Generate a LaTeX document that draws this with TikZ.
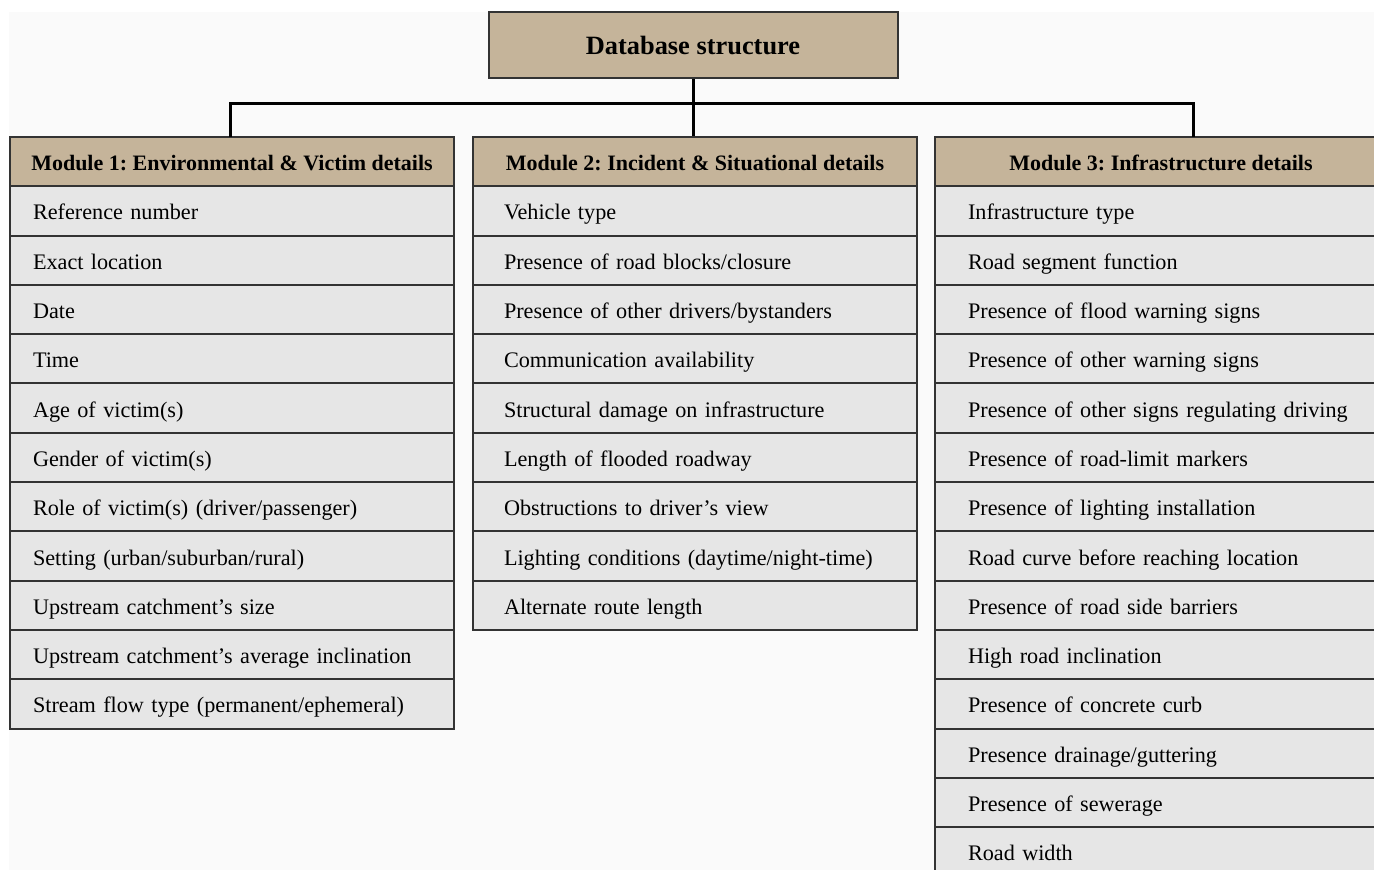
\documentclass[tikz,border=0pt]{standalone}
\usepackage{fontspec}
\setmainfont{Liberation Serif}
\usetikzlibrary{positioning}
\frenchspacing

\definecolor{tan}{HTML}{C5B49A}
\definecolor{cellgray}{HTML}{E6E6E6}
\definecolor{edge}{HTML}{333333}
\definecolor{paper}{HTML}{FAFAFA}

\begin{document}
\begin{tikzpicture}
[
    x=0.5pt, y=-0.5pt,
    title/.style={draw=edge, line width=1pt, fill=tan, minimum width=204.5pt, minimum height=33pt, font=\fontsize{13.2}{15}\selectfont\bfseries},
    head/.style={draw=edge, line width=1pt, fill=tan, minimum width=222pt, minimum height=24.65pt, inner sep=0pt, text height=9pt, text depth=0pt, font=\fontsize{11}{12}\selectfont\bfseries},
    cell/.style={draw=edge, line width=1pt, fill=cellgray, minimum width=222pt, minimum height=24.65pt, inner ysep=0pt, inner xsep=#1, text height=9pt, text depth=0pt, align=left, font=\fontsize{11.1}{12}\selectfont},
    bus/.style={line width=1.5pt, black},
]
\clip (0,0) rectangle (1374,870);
\fill[paper] (9,12) rectangle (1374,870);

% top box
\node [title] (top) at (693,45.5) {Database structure};

% module headers
\node [head] (m1h) at (232,161.6) {Module 1: Environmental \& Victim details};
\node [head] (m2h) at (695,161.6) {Module 2: Incident \& Situational details};
\node [head, minimum width=226pt] (m3h) at (1161,161.6) {Module 3: Infrastructure details};

% module 1
\foreach \t [count=\i] in {Reference number, Exact location, Date, Time,
    Age of victim(s), Gender of victim(s), Role of victim(s) (driver/passenger),
    Setting (urban/suburban/rural), Upstream catchment’s size,
    Upstream catchment’s average inclination,
    Stream flow type (permanent/ephemeral)}
    \node [cell=11.5pt, text width=199pt] (m1-\i) at (232,{186.3+49.3*(\i-0.5)}) {\t};

% module 2
\foreach \t [count=\i] in {Vehicle type, Presence of road blocks/closure,
    Presence of other drivers/bystanders, Communication availability,
    Structural damage on infrastructure, Length of flooded roadway,
    Obstructions to driver’s view, Lighting conditions (daytime/night-time),
    Alternate route length}
    \node [cell=15.5pt, text width=191pt] (m2-\i) at (695,{186.3+49.3*(\i-0.5)}) {\t};

% module 3
\foreach \t [count=\i] in {Infrastructure type, Road segment function,
    Presence of flood warning signs, Presence of other warning signs,
    Presence of other signs regulating driving, Presence of road-limit markers,
    Presence of lighting installation, Road curve before reaching location,
    Presence of road side barriers, High road inclination,
    Presence of concrete curb, Presence drainage/guttering,
    Presence of sewerage, Road width}
    \node [cell=16.5pt, text width=193pt] (m3-\i) at (1161,{186.3+49.3*(\i-0.5)}) {\t};

% connectors
\coordinate (bus) at (693,104);
\coordinate (j1) at (230,137);
\coordinate (j3) at (1193,137);
\draw [bus] (top.south) -- (top.south |- m2h.north);
\draw [bus] (j1) -- (j1 |- bus) -- (j3 |- bus) -- (j3);
\end{tikzpicture}
\end{document}
